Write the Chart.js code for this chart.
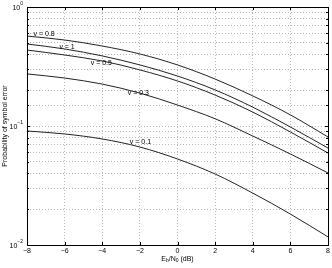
<!DOCTYPE html>
<html>
<head>
<meta charset="utf-8">
<script src="https://cdn.jsdelivr.net/npm/chart.js@4"></script>
<style>
  html, body { margin: 0; padding: 0; background: #fff; }
  #wrap { width: 332px; height: 268px; }
</style>
</head>
<body>
<div id="wrap"><canvas id="myChart" width="332" height="268"></canvas></div>
<script>
const ebn0 = [-8, -6, -4, -2, 0, 2, 4, 6, 8]
const pe08 = [0.570, 0.528, 0.470, 0.403, 0.326, 0.248, 0.179, 0.124, 0.0809]
const pe1 = [0.489, 0.444, 0.388, 0.326, 0.263, 0.201, 0.144, 0.0981, 0.0653]
const pe05 = [0.435, 0.395, 0.352, 0.296, 0.239, 0.182, 0.131, 0.0891, 0.0593]
const pe03 = [0.274, 0.253, 0.225, 0.189, 0.150, 0.115, 0.0824, 0.0582, 0.0403]
const pe01 = [0.0908, 0.0857, 0.0778, 0.0666, 0.0528, 0.0395, 0.0273, 0.0182, 0.0117]
const seriesNames = ["v = 0.8", "v = 1", "v = 0.5", "v = 0.3", "v = 0.1"]
const xTicks = [-8, -6, -4, -2, 0, 2, 4, 6, 8]
const yDecades = [1, 0.1, 0.01]

// where the curve names sit, in data units
const labelAt = [[-7.09, 0.593], [-5.87, 0.457], [-4.05, 0.338], [-2.08, 0.189], [-1.97, 0.0734]]

const FONT = '"Liberation Sans", Arial, Helvetica, sans-serif'

const allSeries = [pe08, pe1, pe05, pe03, pe01]
const datasets = allSeries.map((vals, i) => ({
    label: seriesNames[i],
    data: ebn0.map((x, j) => ({x: x, y: vals[j]})),
    borderColor: '#222',
    borderWidth: 1,
    pointRadius: 0,
    fill: false,
    cubicInterpolationMode: 'monotone'
}))

const decorations = {
    id: 'decorations',
    afterDraw(chart) {
        const ctx = chart.ctx
        const a = chart.chartArea
        const xs = chart.scales.x
        const ys = chart.scales.y
        ctx.save()
        ctx.strokeStyle = '#000'
        ctx.lineWidth = 1
        ctx.strokeRect(Math.round(a.left) + 0.5, Math.round(a.top) + 0.5,
            Math.round(a.right - a.left), Math.round(a.bottom - a.top))

        // inward ticks
        ctx.beginPath()
        xTicks.forEach(v => {
            const px = Math.round(xs.getPixelForValue(v)) + 0.5
            ctx.moveTo(px, a.bottom); ctx.lineTo(px, a.bottom - 3)
            ctx.moveTo(px, a.top); ctx.lineTo(px, a.top + 3)
        })
        ys.ticks.forEach(t => {
            const py = Math.round(ys.getPixelForValue(t.value)) + 0.5
            const len = yDecades.some(d => Math.abs(d - t.value) < 1e-9) ? 3 : 2
            ctx.moveTo(a.left, py); ctx.lineTo(a.left + len, py)
            ctx.moveTo(a.right, py); ctx.lineTo(a.right - len, py)
        })
        ctx.stroke()

        ctx.fillStyle = '#000'
        // y decade labels 10^n
        yDecades.forEach(d => {
            const py = ys.getPixelForValue(d)
            const e = String(Math.round(Math.log10(d))).replace('-', '\u2212')
            ctx.textBaseline = 'middle'
            ctx.textAlign = 'left'
            ctx.font = '5px ' + FONT
            const ew = ctx.measureText(e).width
            ctx.font = '7px ' + FONT
            const bw = ctx.measureText('10').width
            const x0 = a.left - 4 - ew - bw
            ctx.fillText('10', x0, py + 1)
            ctx.font = '5px ' + FONT
            ctx.fillText(e, x0 + bw, py - 3)
        })

        // curve names
        ctx.font = '7px ' + FONT
        ctx.textAlign = 'center'
        ctx.textBaseline = 'middle'
        labelAt.forEach((p, i) => {
            ctx.fillText(seriesNames[i], xs.getPixelForValue(p[0]), ys.getPixelForValue(p[1]))
        })

        // x title E_b/N_0 (dB)
        const parts = [['E', 7, 0], ['b', 5, 2], ['/N', 7, 0], ['0', 5, 2], [' (dB)', 7, 0]]
        let w = 0
        parts.forEach(p => { ctx.font = p[1] + 'px ' + FONT; w += ctx.measureText(p[0]).width })
        let cx = (a.left + a.right) / 2 - w / 2
        ctx.textAlign = 'left'
        parts.forEach(p => {
            ctx.font = p[1] + 'px ' + FONT
            ctx.fillText(p[0], cx, 259 + p[2])
            cx += ctx.measureText(p[0]).width
        })

        // y title
        ctx.translate(5, (a.top + a.bottom) / 2)
        ctx.rotate(-Math.PI / 2)
        ctx.font = '7px ' + FONT
        ctx.textAlign = 'center'
        ctx.fillText('Probability of symbol error', 0, 0)
        ctx.restore()
    }
}

new Chart("myChart", {
    type: "line",
    data: {datasets: datasets},
    options: {
        responsive: false,
        animation: false,
        layout: {padding: {left: 0, right: 4, top: 7, bottom: 0}},
        plugins: {
            title: {display: false},
            legend: {display: false},
            tooltip: {enabled: false}
        },
        scales: {
            x: {
                type: 'linear',
                min: -8,
                max: 8,
                afterBuildTicks: s => { s.ticks = xTicks.map(v => ({value: v})) },
                afterFit: s => { s.height = 23 },
                ticks: {
                    color: '#000',
                    font: {family: FONT, size: 7},
                    padding: 2,
                    maxRotation: 0,
                    callback: v => String(v).replace('-', '\u2212')
                },
                grid: {color: '#b8b8b8', drawTicks: false, lineWidth: 1},
                border: {display: false, dash: [1, 2]}
            },
            y: {
                type: 'logarithmic',
                min: 0.01,
                max: 1,
                afterFit: s => { s.width = 27 },
                ticks: {display: false},
                grid: {color: '#b8b8b8', drawTicks: false, lineWidth: 1},
                border: {display: false, dash: [1, 2]}
            }
        }
    },
    plugins: [decorations]
});
</script>
</body>
</html>
